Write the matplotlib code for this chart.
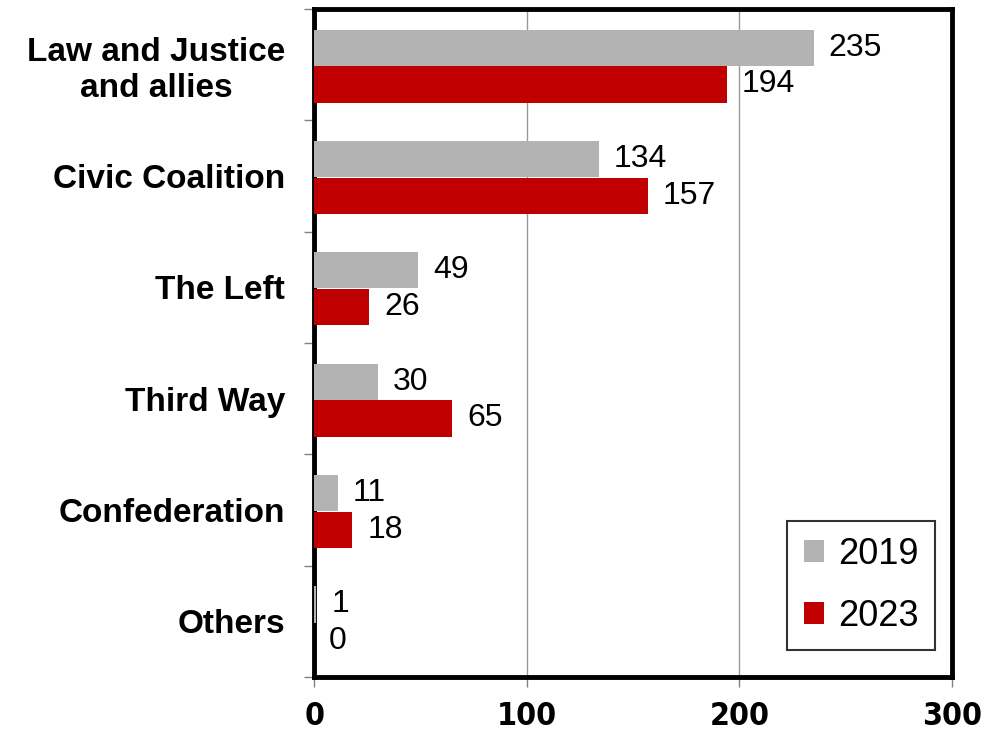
import matplotlib
matplotlib.use("Agg")
import matplotlib.pyplot as plt
import numpy as np

parties = ["Law and Justice\nand allies", "Civic Coalition", "The Left",
           "Third Way", "Confederation", "Others"]
seats_2019 = [235, 134, 49, 30, 11, 1]
seats_2023 = [194, 157, 26, 65, 18, 0]
years = ["2019", "2023"]
x_ticks = [0, 100, 200, 300]

plt.rcParams['font.family'] = ['Liberation Sans', 'DejaVu Sans']

fig = plt.figure(figsize=(9.91, 7.32), dpi=100)
ax = fig.add_axes([0.317, 0.075, 0.6436, 0.9127])

pos = np.arange(len(parties))
h = 0.325
b1 = ax.barh(pos - h / 2 + 0.01, seats_2019, height=h, color='#b3b3b3', label=years[0], zorder=3)
b2 = ax.barh(pos + h / 2 + 0.015, seats_2023, height=h, color='#c00000', label=years[1], zorder=3)

for bars, vals in ((b1, seats_2019), (b2, seats_2023)):
    for bar, v in zip(bars, vals):
        ax.text(v + 7, bar.get_y() + bar.get_height() / 2, str(v),
                va='center', ha='left', fontsize=23, zorder=4)

ax.set_xlim(0, 300)
ax.set_ylim(len(parties) - 0.5, -0.5)
ax.set_xticks(x_ticks)
ax.set_xticklabels([str(t) for t in x_ticks], family=['Liberation Sans Narrow', 'DejaVu Sans'],
                   stretch='condensed', fontweight='bold', fontsize=23)
ax.set_yticks(pos)
ax.set_yticklabels(parties, fontweight='bold', fontsize=24, ha='right',
                   multialignment='center', linespacing=1.2)
ax.tick_params(axis='y', length=0, pad=21)
ax.set_yticks(np.arange(-0.5, len(parties), 1), minor=True)
ax.tick_params(axis='y', which='minor', length=7, color='#808080', width=1)
ax.tick_params(axis='x', length=7, color='#808080', width=1, pad=10)

ax.grid(axis='x', color='#999999', linewidth=1, zorder=0)
for s in ax.spines.values():
    s.set_linewidth(3.5)
    s.set_color('black')

leg = ax.legend(loc='lower right', fontsize=26, frameon=True, fancybox=False,
                edgecolor='black', handlelength=0.55, handleheight=0.55,
                handletextpad=0.4, labelspacing=0.75, borderpad=0.45,
                borderaxespad=0, bbox_to_anchor=(0.973, 0.04))
leg.get_frame().set_linewidth(1.5)

fig.savefig("out.png", dpi=100)
